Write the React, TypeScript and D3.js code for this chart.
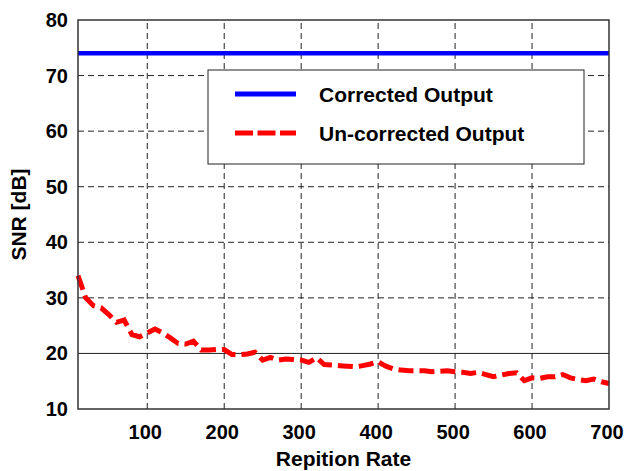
import React from "react";
import * as d3 from "d3";

const xValues: number[] = [
  10, 20, 30, 40, 50, 60, 70, 80, 90, 100,
  110, 120, 130, 140, 150, 160, 170, 180, 190, 200,
  210, 220, 230, 240, 250, 260, 270, 280, 290, 300,
  310, 320, 330, 340, 350, 360, 370, 380, 390, 400,
  410, 420, 430, 440, 450, 460, 470, 480, 490, 500,
  510, 520, 530, 540, 550, 560, 570, 580, 590, 600,
  610, 620, 630, 640, 650, 660, 670, 680, 690, 700,
];
const uncorrected: number[] = [
  34.0, 30.0, 28.6, 28.2, 27.0, 25.6, 26.0, 23.4, 23.0, 23.7,
  24.4, 23.7, 22.8, 21.8, 21.7, 22.2, 20.6, 20.6, 20.7, 20.7,
  19.8, 19.8, 19.9, 20.2, 18.8, 19.3, 18.8, 19.0, 18.9, 18.8,
  18.4, 19.2, 18.0, 17.9, 17.8, 17.7, 17.6, 17.8, 18.1, 18.5,
  17.7, 17.2, 17.0, 16.9, 16.9, 16.9, 16.7, 16.8, 16.9, 16.7,
  16.6, 16.4, 16.6, 16.2, 15.8, 16.1, 16.4, 16.5, 15.1, 15.6,
  15.5, 15.8, 15.8, 16.2, 15.6, 15.3, 15.1, 15.4, 14.9, 14.6,
];
const correctedValue = 74;
const xTicks: number[] = [100, 200, 300, 400, 500, 600, 700];
const yTicks: number[] = [10, 20, 30, 40, 50, 60, 70, 80];
const seriesNames: string[] = ["Corrected Output", "Un-corrected Output"];
const xTitle = "Repition Rate";
const yTitle = "SNR [dB]";

const W = 625;
const H = 471;
const M = { left: 78, right: 16, top: 20, bottom: 62 };
const FONT = "'Liberation Sans', Arial, Helvetica, sans-serif";

export default function App() {
  const x = d3.scaleLinear().domain([10, 700]).range([M.left, W - M.right]);
  const y = d3.scaleLinear().domain([10, 80]).range([H - M.bottom, M.top]);
  const line = d3
    .line<number>()
    .x((_, i) => x(xValues[i]))
    .y((d) => y(d));
  const x0 = x(10);
  const x1 = x(700);
  const y0 = y(10);
  const y1 = y(80);

  const lg = { x: 208, y: 70, w: 376, h: 94 };

  return (
    <svg
      width={W}
      height={H}
      style={{ position: "absolute", left: 0, top: 0, background: "#fff" }}
      fontFamily={FONT}
    >
      {/* grid */}
      {xTicks.filter((t) => t < 700).map((t) => (
        <line
          key={"gx" + t}
          x1={x(t)}
          x2={x(t)}
          y1={y0}
          y2={y1}
          stroke="#222"
          strokeWidth={1}
          strokeDasharray="6,4"
        />
      ))}
      {yTicks.filter((t) => t > 10 && t < 80).map((t) =>
        t === 20 ? (
          <line key={"gy" + t} x1={x0} x2={x1} y1={y(t)} y2={y(t)} stroke="#222" strokeWidth={1} />
        ) : (
          <line
            key={"gy" + t}
            x1={x0}
            x2={x1}
            y1={y(t)}
            y2={y(t)}
            stroke="#222"
            strokeWidth={1}
            strokeDasharray="6,4"
          />
        )
      )}
      {/* series */}
      <line
        x1={x0}
        x2={x1}
        y1={y(correctedValue)}
        y2={y(correctedValue)}
        stroke="#0000ff"
        strokeWidth={4.5}
      />
      <path
        d={line(uncorrected) || ""}
        fill="none"
        stroke="#ff0000"
        strokeWidth={5}
        strokeDasharray="15,6"
        strokeLinejoin="miter"
      />
      {/* frame */}
      <rect x={x0} y={y1} width={x1 - x0} height={y0 - y1} fill="none" stroke="#333" strokeWidth={1.5} />
      {/* tick labels */}
      {xTicks.map((t) => (
        <text key={"xl" + t} x={x(t) - 2} y={y0 + 30} textAnchor="middle" fontSize={20} fontWeight="bold">
          {t}
        </text>
      ))}
      {yTicks.map((t) => (
        <text key={"yl" + t} x={x0 - 10} y={y(t) + 7} textAnchor="end" fontSize={20} fontWeight="bold">
          {t}
        </text>
      ))}
      <text x={(x0 + x1) / 2} y={466} textAnchor="middle" fontSize={21} fontWeight="bold">
        {xTitle}
      </text>
      <text
        transform={`translate(26, ${(y0 + y1) / 2}) rotate(-90)`}
        textAnchor="middle"
        fontSize={21}
        fontWeight="bold"
      >
        {yTitle}
      </text>
      {/* legend */}
      <rect x={lg.x} y={lg.y} width={lg.w} height={lg.h} fill="#fff" stroke="#222" strokeWidth={1} />
      <line x1={235} x2={296} y1={94} y2={94} stroke="#0000ff" strokeWidth={5} />
      <line x1={235} x2={296} y1={133} y2={133} stroke="#ff0000" strokeWidth={5} strokeDasharray="18,4.5" />
      <text x={319} y={102} fontSize={21} fontWeight="bold">
        {seriesNames[0]}
      </text>
      <text x={319} y={141} fontSize={21} fontWeight="bold">
        {seriesNames[1]}
      </text>
    </svg>
  );
}
